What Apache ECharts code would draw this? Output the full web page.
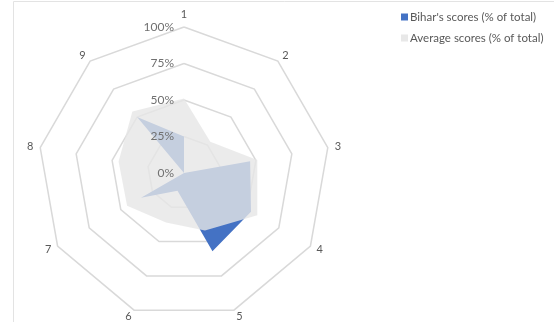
<!DOCTYPE html>
<html>
<head>
<meta charset="utf-8">
<script src="https://cdn.jsdelivr.net/npm/echarts@6/dist/echarts.min.js"></script>
<style>
html,body{margin:0;padding:0;background:#fff;}
#chart{width:554px;height:322px;}
</style>
</head>
<body>
<div id="chart"></div>
<script>
// Categories (clockwise from top, as in the reference)
const categories = ['1', '2', '3', '4', '5', '6', '7', '8', '9'];
// Series values (fractions of total)
const biharScores = [0.25, 0.00, 0.46, 0.53, 0.57, 0.13, 0.34, 0.00, 0.50];
const averageScores = [0.51, 0.28, 0.51, 0.58, 0.42, 0.36, 0.45, 0.455, 0.55];
// Ring tick labels
const tickLabels = ['0%', '25%', '50%', '75%', '100%'];
const seriesNames = ["Bihar's scores (% of total)", 'Average scores (% of total)'];

// ECharts radar runs counter-clockwise; reorder so the chart reads clockwise
const order = [0].concat(categories.map((_, i) => i).slice(1).reverse());
const reorder = arr => order.map(i => arr[i]);

const makeIndicators = withLabel => order.map((i, k) => {
  const ind = { name: categories[i], min: 0, max: 1 };
  if (withLabel && k === 0) ind.axisLabel = { show: true };
  return ind;
});

const common = {
  center: [184, 173],
  radius: 146,
  startAngle: 90,
  splitNumber: 4,
  shape: 'polygon',
  axisLine: { show: false },
  axisTick: { show: false },
  splitArea: { show: false }
};

const chart = echarts.init(document.getElementById('chart'), null, { renderer: 'canvas' });
chart.setOption({
  animation: false,
  backgroundColor: '#ffffff',
  textStyle: { fontFamily: 'Lato' },
  graphic: [{
    type: 'rect',
    shape: { x: 13.5, y: 1.5, width: 600, height: 400 },
    style: { fill: 'none', stroke: '#e3e3e3', lineWidth: 1 },
    silent: true
  }],
  legend: {
    orient: 'vertical',
    left: 396,
    top: 6,
    itemWidth: 7,
    itemHeight: 7,
    itemGap: 9,
    icon: 'rect',
    textStyle: { color: '#595959', fontSize: 11.5, fontFamily: 'Lato', padding: [0, 0, 0, -3] },
    data: seriesNames
  },
  radar: [
    Object.assign({}, common, {
      z: 1,
      indicator: makeIndicators(false),
      axisName: { color: '#595959', fontSize: 11, fontFamily: 'Lato' },
      nameGap: 7,
      splitLine: { lineStyle: { color: '#d9d9d9', width: 1.5 } },
      axisLabel: { show: false }
    }),
    Object.assign({}, common, {
      z: 10,
      indicator: makeIndicators(true),
      axisName: { show: false },
      splitLine: { show: false },
      axisLabel: {
        show: false,
        color: '#707070',
        fontSize: 12,
        fontFamily: 'Lato',
        margin: 10,
        formatter: v => tickLabels[Math.round(v * 4)]
      }
    })
  ],
  series: [{
    type: 'radar',
    radarIndex: 0,
    z: 2,
    symbol: 'none',
    silent: true,
    data: [
      {
        name: seriesNames[0],
        value: reorder(biharScores),
        itemStyle: { color: '#4472c4' },
        lineStyle: { width: 0 },
        areaStyle: { color: '#4472c4', opacity: 1 }
      },
      {
        name: seriesNames[1],
        value: reorder(averageScores),
        itemStyle: { color: 'rgba(226,226,226,0.8)' },
        lineStyle: { width: 0 },
        areaStyle: { color: 'rgb(230,230,230)', opacity: 0.8 }
      }
    ]
  }]
});
</script>
</body>
</html>
